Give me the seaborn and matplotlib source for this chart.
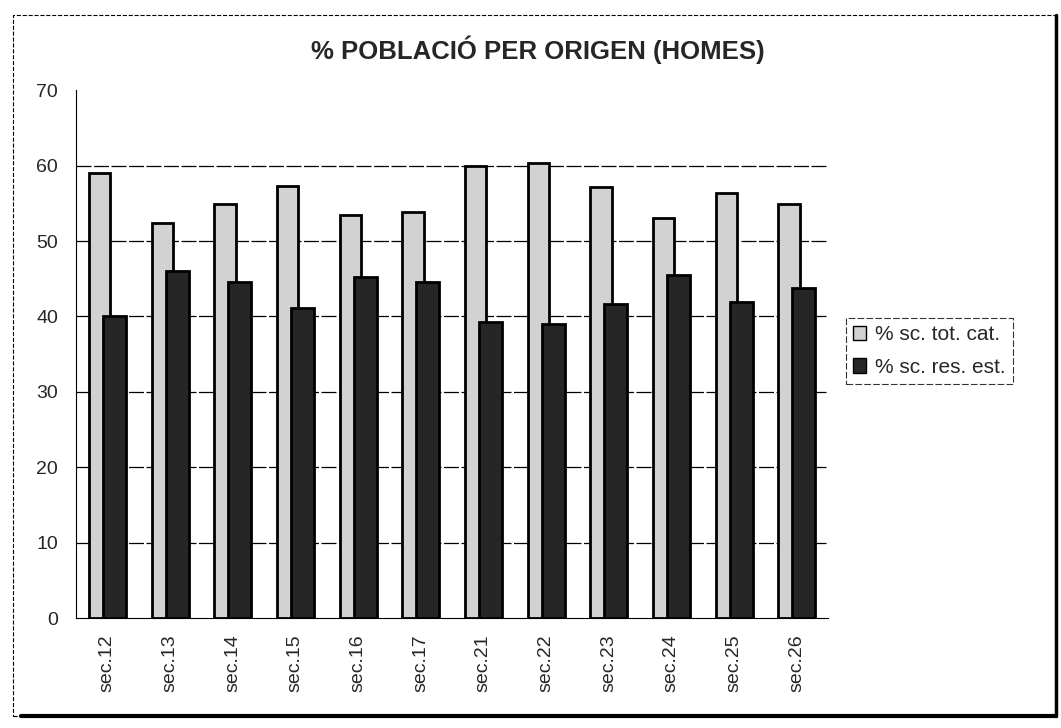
import matplotlib.pyplot as plt
import matplotlib.patches as mpatches
import pandas as pd
import seaborn as sns

# values
seccions = ["sec.12", "sec.13", "sec.14", "sec.15", "sec.16", "sec.17",
            "sec.21", "sec.22", "sec.23", "sec.24", "sec.25", "sec.26"]
tot_cat = [59.0, 52.4, 54.9, 57.3, 53.4, 53.8, 60.0, 60.3, 57.2, 53.0, 56.4, 54.9]
res_est = [40.1, 46.0, 44.6, 41.1, 45.3, 44.6, 39.3, 39.0, 41.7, 45.5, 41.9, 43.8]
series = ["% sc. tot. cat.", "% sc. res. est."]
colors = ["#d2d2d2", "#262626"]

df = pd.DataFrame({
    "seccio": seccions * 2,
    "valor": tot_cat + res_est,
    "serie": [series[0]] * len(seccions) + [series[1]] * len(seccions),
})

sns.set_style("white")
plt.rcParams["font.family"] = ["Liberation Sans", "DejaVu Sans"]

fig = plt.figure(figsize=(10.61, 7.28), dpi=100)
ax = fig.add_axes([0.0716, 0.151, 0.7088, 0.725])

sns.barplot(data=df, x="seccio", y="valor", hue="serie", palette=colors,
            width=0.6, edgecolor="black", linewidth=2, legend=False, ax=ax)

# Excel-style overlap: dark bar drawn over the right part of the light one
offsets = [(-0.12, 0.34, 2), (0.115, 0.37, 3)]
for cont, (off, w, z) in zip(ax.containers, offsets):
    for i, bar in enumerate(cont):
        bar.set_x(i + off - w / 2)
        bar.set_width(w)
        bar.set_zorder(z)

ax.set_ylim(0, 70)
ax.set_xlim(-0.5, len(seccions) - 0.5)
ax.set_yticks(range(0, 71, 10))
ax.set_xlabel("")
ax.set_ylabel("")
ax.tick_params(axis="y", labelsize=14, length=6, direction="inout", width=0.8, pad=10)
ax.tick_params(axis="x", labelsize=14, labelrotation=90, length=0, pad=12)
ax.set_xticks([i + 0.5 for i in range(len(seccions))], minor=True)
ax.tick_params(axis="x", which="minor", length=8, direction="inout", width=0.8)

for y in range(10, 61, 10):
    ax.axhline(y, color="black", lw=0.9, ls=(0, (12, 2)), zorder=1)

for side in ["top", "right"]:
    ax.spines[side].set_visible(False)
for side in ["left", "bottom"]:
    ax.spines[side].set_color("black")
    ax.spines[side].set_linewidth(0.8)
    ax.spines[side].set_zorder(4)

fig.suptitle("% POBLACIÓ PER ORIGEN (HOMES)", x=0.507, y=0.932,
             fontsize=18.5, fontweight="bold", va="center")

handles = [mpatches.Patch(facecolor=c, edgecolor="black", label=s)
           for c, s in zip(colors, series)]
leg = fig.legend(handles=handles, loc="upper left", bbox_to_anchor=(0.797, 0.563),
                 fontsize=15, frameon=True, fancybox=False, handlelength=0.65,
                 handleheight=0.7, handletextpad=0.4, borderpad=0.35,
                 borderaxespad=0, labelspacing=0.63)
leg.get_frame().set_edgecolor("black")
leg.get_frame().set_linewidth(0.8)
leg.get_frame().set_linestyle((0, (6, 2)))

# outer chart frame
fig.add_artist(mpatches.Rectangle((0.012, 0.017), 0.983, 0.963, transform=fig.transFigure,
                                  fill=False, edgecolor="black", lw=0.8, ls="--"))
fig.add_artist(plt.Line2D([0.02, 0.995], [0.017, 0.017], transform=fig.transFigure,
                          color="black", lw=3))
fig.add_artist(plt.Line2D([0.995, 0.995], [0.017, 0.98], transform=fig.transFigure,
                          color="black", lw=2.5))

fig.savefig("out.png", dpi=100)
